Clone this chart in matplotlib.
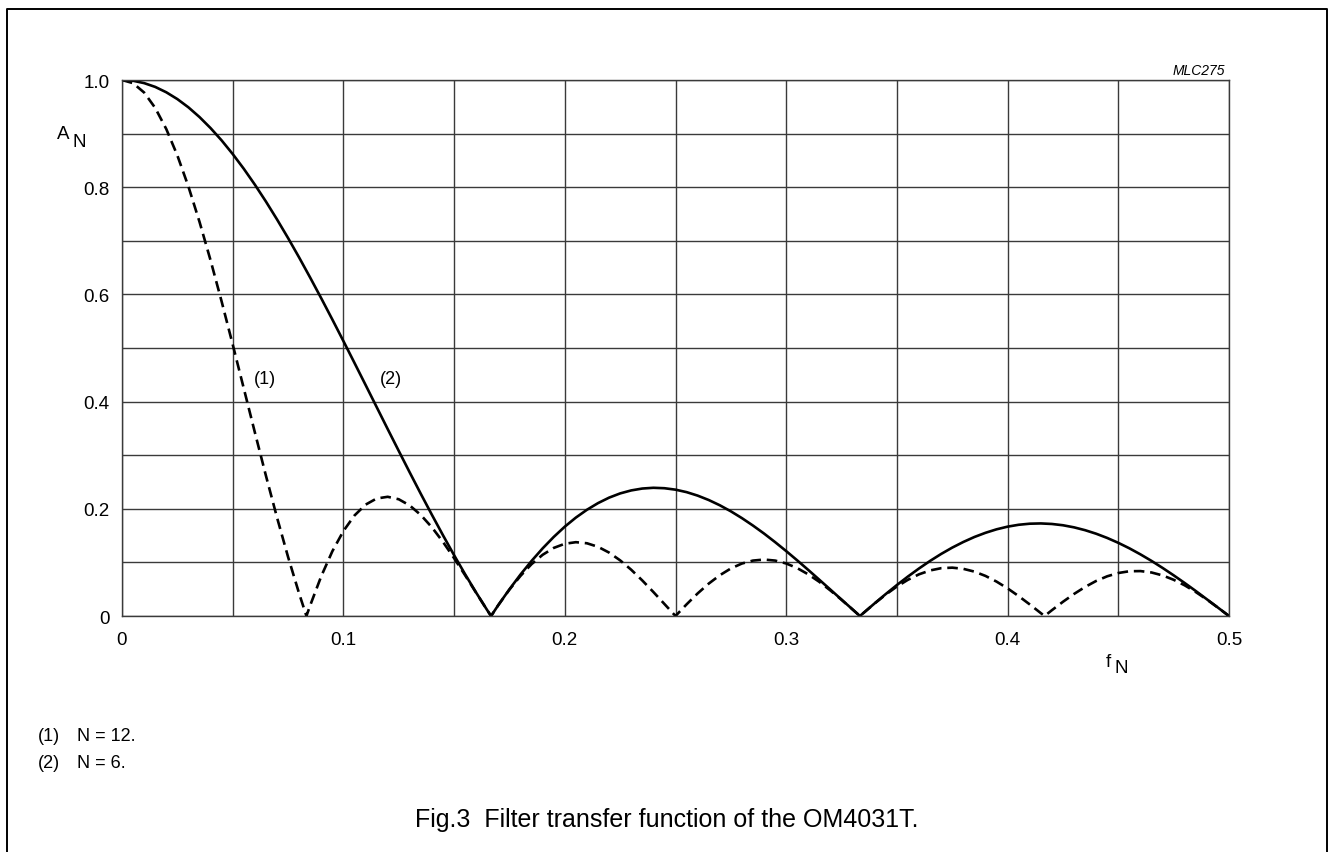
import matplotlib.pyplot as plt
from matplotlib.lines import Line2D

# values
f_n12 = [0, 0.005, 0.01, 0.015, 0.02, 0.025, 0.03, 0.035, 0.04, 0.045, 0.05,
         0.055, 0.06, 0.065, 0.07, 0.075, 0.08, 0.0833, 0.085, 0.09, 0.095, 0.1,
         0.105, 0.11, 0.115, 0.12, 0.125, 0.13, 0.135, 0.14, 0.145, 0.15,
         0.155, 0.16, 0.165, 0.1667, 0.17, 0.175, 0.18, 0.185, 0.19, 0.195, 0.2,
         0.205, 0.21, 0.215, 0.22, 0.225, 0.23, 0.235, 0.24, 0.245, 0.25,
         0.255, 0.26, 0.265, 0.27, 0.275, 0.28, 0.285, 0.29, 0.295, 0.3,
         0.305, 0.31, 0.315, 0.32, 0.325, 0.33, 0.3333, 0.335, 0.34, 0.345, 0.35,
         0.355, 0.36, 0.365, 0.37, 0.375, 0.38, 0.385, 0.39, 0.395, 0.4,
         0.405, 0.41, 0.415, 0.4167, 0.42, 0.425, 0.43, 0.435, 0.44, 0.445, 0.45,
         0.455, 0.46, 0.465, 0.47, 0.475, 0.48, 0.485, 0.49, 0.495, 0.5]
a_n12 = [1.0, 0.9941, 0.9766, 0.9479, 0.9085, 0.8593, 0.8012, 0.7355, 0.6636, 0.5868, 0.5066,
         0.4247, 0.3427, 0.2619, 0.1840, 0.1103, 0.0420, 0.0, 0.0198, 0.0743, 0.1207, 0.1585,
         0.1875, 0.2077, 0.2192, 0.2224, 0.2178, 0.2061, 0.1883, 0.1653, 0.1381, 0.1079,
         0.0758, 0.0430, 0.0106, 0.0, 0.0205, 0.0493, 0.0749, 0.0968, 0.1142, 0.1270, 0.1348,
         0.1377, 0.1357, 0.1291, 0.1183, 0.1038, 0.0863, 0.0663, 0.0448, 0.0224, 0.0,
         0.0217, 0.0421, 0.0604, 0.0760, 0.0887, 0.0979, 0.1034, 0.1053, 0.1034, 0.0980,
         0.0893, 0.0776, 0.0636, 0.0475, 0.0302, 0.0121, 0.0, 0.0060, 0.0236, 0.0401, 0.0550,
         0.0676, 0.0778, 0.0850, 0.0892, 0.0902, 0.0880, 0.0828, 0.0748, 0.0642, 0.0515,
         0.0371, 0.0216, 0.0054, 0.0, 0.0108, 0.0265, 0.0411, 0.0542, 0.0654, 0.0741, 0.0802,
         0.0835, 0.0838, 0.0812, 0.0757, 0.0676, 0.0572, 0.0447, 0.0307, 0.0156, 0.0]

f_n6 = [0, 0.005, 0.01, 0.015, 0.02, 0.025, 0.03, 0.035, 0.04, 0.045, 0.05,
        0.055, 0.06, 0.065, 0.07, 0.075, 0.08, 0.085, 0.09, 0.095, 0.1,
        0.105, 0.11, 0.115, 0.12, 0.125, 0.13, 0.135, 0.14, 0.145, 0.15,
        0.155, 0.16, 0.165, 0.1667, 0.17, 0.175, 0.18, 0.185, 0.19, 0.195, 0.2,
        0.205, 0.21, 0.215, 0.22, 0.225, 0.23, 0.235, 0.24, 0.245, 0.25,
        0.255, 0.26, 0.265, 0.27, 0.275, 0.28, 0.285, 0.29, 0.295, 0.3,
        0.305, 0.31, 0.315, 0.32, 0.325, 0.33, 0.3333, 0.335, 0.34, 0.345, 0.35,
        0.355, 0.36, 0.365, 0.37, 0.375, 0.38, 0.385, 0.39, 0.395, 0.4,
        0.405, 0.41, 0.415, 0.42, 0.425, 0.43, 0.435, 0.44, 0.445, 0.45,
        0.455, 0.46, 0.465, 0.47, 0.475, 0.48, 0.485, 0.49, 0.495, 0.5]
a_n6 = [1.0, 0.9986, 0.9942, 0.9871, 0.9771, 0.9644, 0.9490, 0.9309, 0.9103, 0.8873, 0.8619,
        0.8344, 0.8048, 0.7733, 0.7400, 0.7052, 0.6689, 0.6313, 0.5927, 0.5532, 0.5130,
        0.4722, 0.4312, 0.3900, 0.3488, 0.3080, 0.2675, 0.2276, 0.1886, 0.1505, 0.1134,
        0.0777, 0.0434, 0.0106, 0.0, 0.0206, 0.0499, 0.0774, 0.1028, 0.1262, 0.1475, 0.1667,
        0.1836, 0.1982, 0.2106, 0.2208, 0.2287, 0.2343, 0.2378, 0.2392, 0.2384, 0.2357,
        0.2311, 0.2246, 0.2164, 0.2066, 0.1953, 0.1826, 0.1687, 0.1538, 0.1378, 0.1211,
        0.1037, 0.0858, 0.0675, 0.0491, 0.0306, 0.0122, 0.0, 0.0060, 0.0238, 0.0411, 0.0578,
        0.0737, 0.0887, 0.1028, 0.1158, 0.1276, 0.1381, 0.1474, 0.1552, 0.1617, 0.1667,
        0.1702, 0.1722, 0.1727, 0.1717, 0.1693, 0.1654, 0.1601, 0.1535, 0.1456, 0.1365,
        0.1263, 0.1150, 0.1028, 0.0897, 0.0759, 0.0615, 0.0466, 0.0312, 0.0157, 0.0]

x_ticks = [0, 0.1, 0.2, 0.3, 0.4, 0.5]
x_labels = ["0", "0.1", "0.2", "0.3", "0.4", "0.5"]
y_ticks = [0, 0.2, 0.4, 0.6, 0.8, 1.0]
y_labels = ["0", "0.2", "0.4", "0.6", "0.8", "1.0"]

plt.rcParams['font.family'] = ['Liberation Sans', 'DejaVu Sans']

W, H = 1329, 853
fig = plt.figure(figsize=(W / 100, H / 100), dpi=100)

def px(x, y):
    # pixel position -> figure fraction
    return x / W, 1 - y / H

ax = fig.add_axes([122 / W, 1 - 617 / H, (1229 - 122) / W, (617 - 81) / H])
gc = '#3a3a3a'

ax.plot(f_n12, a_n12, color='black', lw=1.9, dashes=(4, 2.2))
ax.plot(f_n6, a_n6, color='black', lw=1.9)

ax.set_xlim(0, 0.5)
ax.set_ylim(0, 1.0)
ax.set_xticks(x_ticks)
ax.set_xticklabels(x_labels)
ax.set_yticks(y_ticks)
ax.set_yticklabels(y_labels)
ax.set_xticks([0.05, 0.15, 0.25, 0.35, 0.45], minor=True)
ax.set_yticks([0.1, 0.3, 0.5, 0.7, 0.9], minor=True)
ax.grid(which='both', color=gc, lw=1.0)
ax.tick_params(which='both', length=0, labelsize=13.5)
ax.tick_params(axis='y', pad=9)
ax.tick_params(axis='x', pad=11)
for s in ax.spines.values():
    s.set_color(gc)
    s.set_linewidth(1.0)

# axis names
fig.text(*px(57, 139), "A", fontsize=13.5, va='baseline')
fig.text(*px(72, 147), "N", fontsize=13.5, va='baseline')
fig.text(*px(1106, 667), "f", fontsize=13.5, va='baseline')
fig.text(*px(1115, 673), "N", fontsize=13.5, va='baseline')
fig.text(*px(1225, 75), "MLC275", fontsize=10, style='italic', ha='right', va='baseline')

# curve labels
fig.text(*px(265, 380), "(1)", fontsize=13, ha='center', va='center')
fig.text(*px(391, 380), "(2)", fontsize=13, ha='center', va='center')

# notes and caption
fig.text(*px(38, 741), "(1)", fontsize=13, va='baseline')
fig.text(*px(77, 741), "N = 12.", fontsize=13, va='baseline')
fig.text(*px(38, 768), "(2)", fontsize=13, va='baseline')
fig.text(*px(77, 768), "N = 6.", fontsize=13, va='baseline')
fig.text(*px(667, 827), "Fig.3  Filter transfer function of the OM4031T.",
         fontsize=18, ha='center', va='baseline')

# page frame, open at the bottom
fx = [7 / W, 7 / W, 1327 / W, 1327 / W]
fy = [0, 1 - 10 / H, 1 - 10 / H, 0]
fig.add_artist(Line2D(fx, fy, color='black', lw=1.4, transform=fig.transFigure))

fig.savefig("out.png", dpi=100)
